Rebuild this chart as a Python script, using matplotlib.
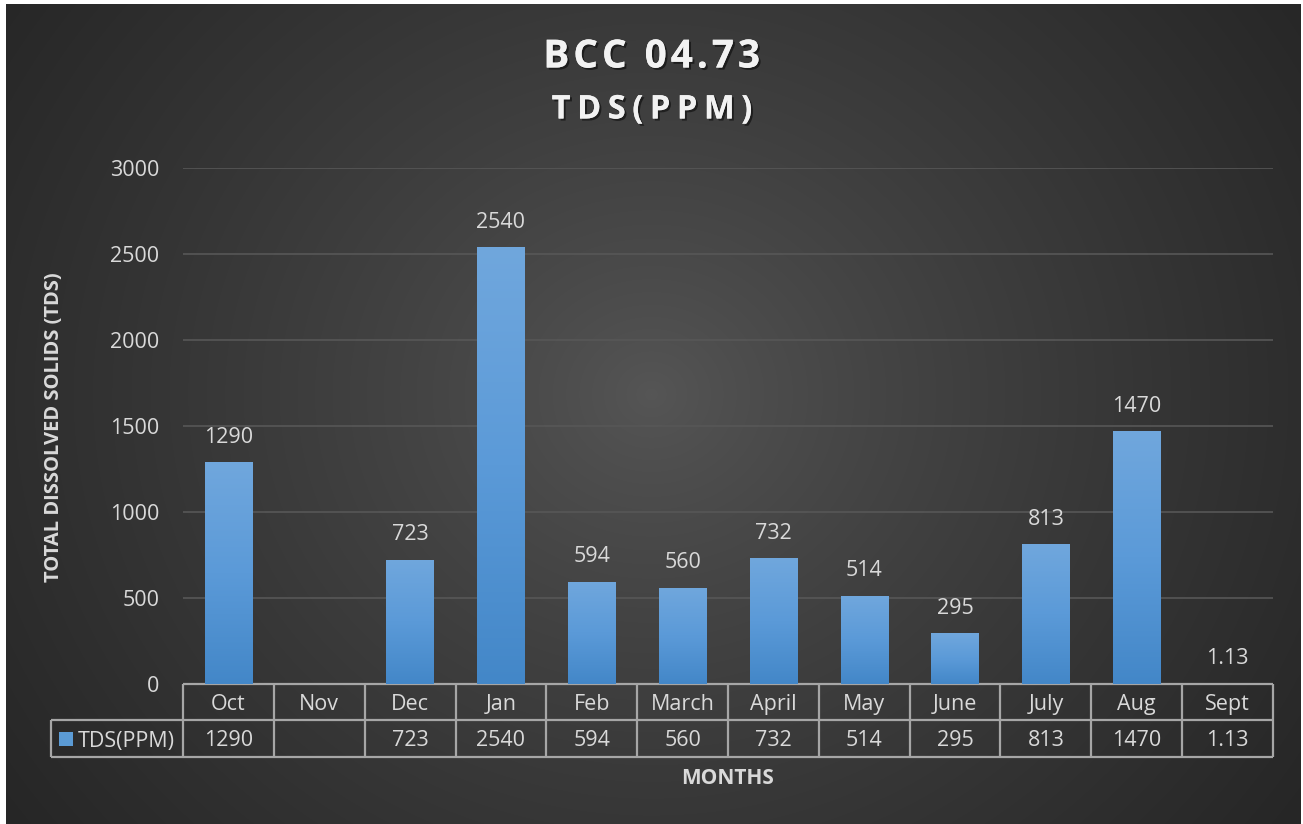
import numpy as np
import matplotlib.pyplot as plt
import matplotlib.transforms as mtransforms
from matplotlib import patheffects as pe
from matplotlib.patches import Rectangle
from matplotlib.colors import LinearSegmentedColormap

# data
months = ["Oct", "Nov", "Dec", "Jan", "Feb", "March", "April", "May", "June", "July", "Aug", "Sept"]
tds = [1290, np.nan, 723, 2540, 594, 560, 732, 514, 295, 813, 1470, 1.13]
tds_labels = ["1290", "", "723", "2540", "594", "560", "732", "514", "295", "813", "1470", "1.13"]
series_name = "TDS(PPM)"
y_ticks = [0, 500, 1000, 1500, 2000, 2500, 3000]

plt.rcParams['font.family'] = ['Open Sans', 'DejaVu Sans']
txt_col = '#d9d9d9'
line_col = '#a6a6a6'
fs = 15.5


def spaced(s, gap):
    # crude letter spacing for the title lines
    return gap.join(s)


fig = plt.figure(figsize=(13.03, 8.24), dpi=100, facecolor='white')

# dark card with radial gradient
bg = fig.add_axes([6 / 1303, 0, 1295 / 1303, 820 / 824])
bg.set_axis_off()
yy, xx = np.mgrid[0:820, 0:1295]
r = np.sqrt((xx - 645) ** 2 + ((yy - 390) * 1.1) ** 2) / 800
r = np.clip(r, 0, 1)
shade = (0x56 - (0x56 - 0x26) * r ** 0.8) / 255.0
bg.imshow(np.dstack([shade] * 3), aspect='auto', interpolation='bilinear')

ax = fig.add_axes([183 / 1303, 140 / 824, 1090 / 1303, 516 / 824])
ax.set_facecolor('none')
x = np.arange(len(months))

bars = ax.bar(x, tds, width=0.52, color='#5b9bd5', zorder=2)
bar_cmap = LinearSegmentedColormap.from_list('bar', ['#4387c8', '#5b9ad8', '#70a7dd'])
grad = np.linspace(0, 1, 256).reshape(-1, 1)
for b in bars:
    bb = b.get_bbox()
    if np.isnan(bb.y1) or bb.height <= 0:
        continue
    im = ax.imshow(grad, cmap=bar_cmap, origin='lower', aspect='auto',
                   extent=[bb.x0, bb.x1, bb.y0, bb.y1], zorder=3)
    im.set_clip_path(b)

for i, (v, lab) in enumerate(zip(tds, tds_labels)):
    if np.isnan(v):
        continue
    ax.annotate(lab, (i, v), xytext=(0, 18), textcoords='offset points',
                ha='center', va='center', color=txt_col, fontsize=fs)

ax.set_xlim(-0.5, len(months) - 0.5)
ax.set_ylim(0, 3000)
ax.set_yticks(y_ticks)
ax.set_xticks([])
ax.tick_params(axis='y', length=0, pad=17, labelcolor=txt_col, labelsize=fs)
for s in ax.spines.values():
    s.set_visible(False)
ax.yaxis.grid(True, color='#575757', lw=1.2, zorder=0)
ax.set_axisbelow(True)

# data table under the axis
trans = mtransforms.blended_transform_factory(ax.transData, ax.transAxes)
h1 = 36 / 516
h2 = 37 / 516
nudge = 2.5 / 516  # text sits a bit low in the cells
leg_left = -0.5 - 132 / 90.83
kw = dict(transform=trans, color=line_col, lw=1.6, clip_on=False, solid_capstyle='butt')
ax.plot([-0.5, len(months) - 0.5], [0, 0], **kw)
ax.plot([leg_left, len(months) - 0.5], [-h1, -h1], **kw)
ax.plot([leg_left, len(months) - 0.5], [-h1 - h2, -h1 - h2], **kw)
ax.plot([leg_left, leg_left], [-h1, -h1 - h2], **kw)
for i in range(len(months) + 1):
    ax.plot([i - 0.5, i - 0.5], [0, -h1 - h2], **kw)
for i, m in enumerate(months):
    ax.text(i, -h1 / 2 - nudge, m, transform=trans, ha='center', va='center',
            color=txt_col, fontsize=fs)
    ax.text(i, -h1 - h2 / 2 - nudge, tds_labels[i], transform=trans, ha='center', va='center',
            color=txt_col, fontsize=fs)

sq = Rectangle((leg_left + 8 / 90.83, -h1 - h2 / 2 - 7 / 516), 14 / 90.83, 14 / 516,
               transform=trans, facecolor='#5b9bd5', edgecolor='none', clip_on=False)
ax.add_patch(sq)
ax.text(leg_left + 27 / 90.83, -h1 - h2 / 2 - nudge, series_name, transform=trans,
        ha='left', va='center', color=txt_col, fontsize=fs)

ax.set_ylabel("TOTAL DISSOLVED SOLIDS (TDS)", color=txt_col, fontsize=14.5, fontweight='bold')
ax.yaxis.set_label_coords((64 - 183) / 1090, (684 - 427) / 516)
ax.text(0.5, -(778 - 684) / 516, "MONTHS", transform=ax.transAxes, ha='center', va='center',
        color=txt_col, fontsize=15, fontweight='bold')

shadow = [pe.withSimplePatchShadow(offset=(1.5, -1.5), shadow_rgbFace='black', alpha=0.5), pe.Normal()]
fig.text(0.5, 1 - 57 / 824, spaced("BCC 04.73", "\u200a"), ha='center', va='center',
         color='#f2f2f2', fontsize=28, fontweight='bold', path_effects=shadow)
fig.text(0.5, 1 - 110 / 824, spaced("TDS(PPM)", "\u2009"), ha='center', va='center',
         color='#f2f2f2', fontsize=23.5, fontweight='bold', path_effects=shadow)

fig.savefig('out.png', dpi=100, facecolor='white')
